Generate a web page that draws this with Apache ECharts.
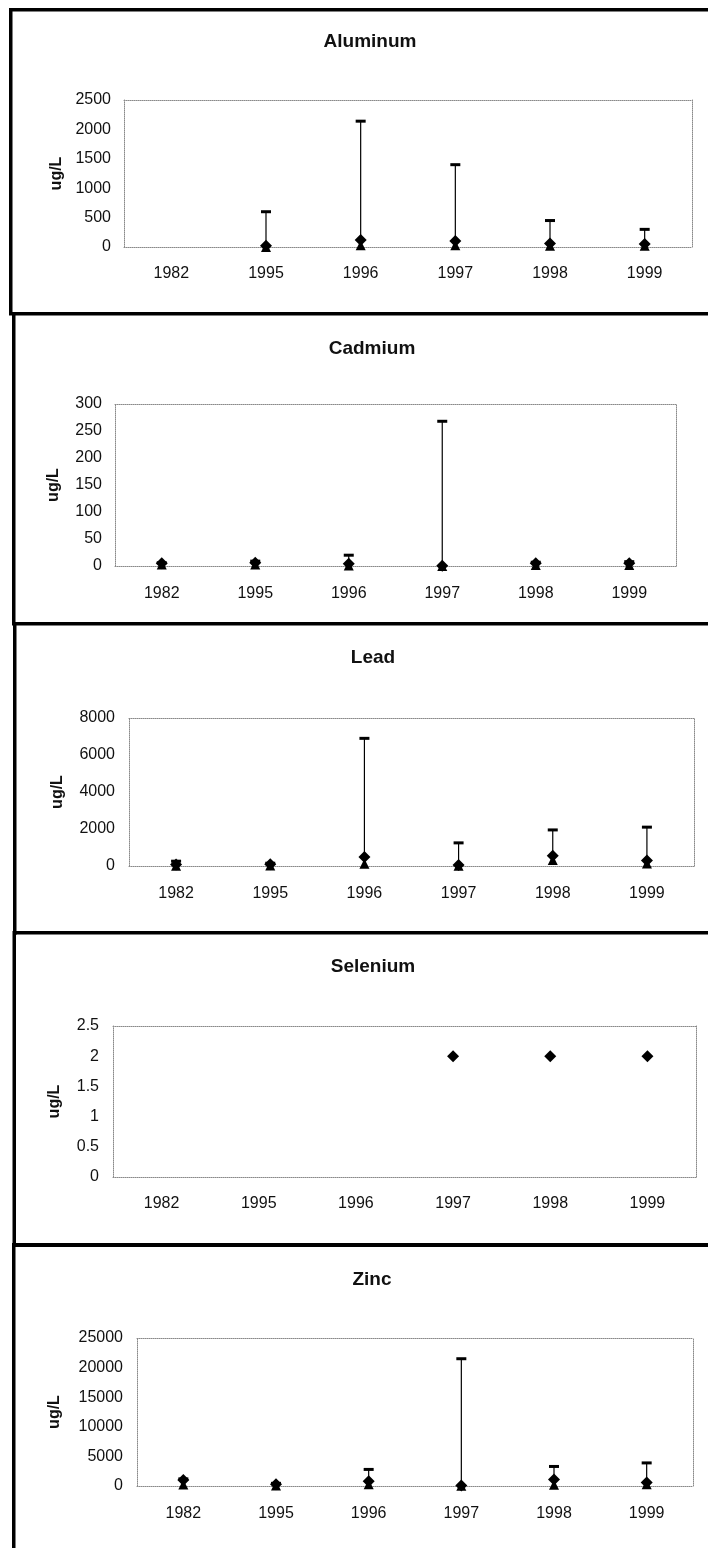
<!DOCTYPE html>
<html>
<head>
<meta charset="utf-8">
<script src="https://cdn.jsdelivr.net/npm/echarts@6/dist/echarts.min.js"></script>
<style>
html,body{margin:0;padding:0;background:#fff;}
#c{width:708px;height:1548px;}
</style>
</head>
<body>
<div id="c"></div>
<script>
// ---- data ----
const years = ['1982', '1995', '1996', '1997', '1998', '1999'];

const aluminumMean = [null, 20, 120, 100, 60, 50];
const aluminumMin  = [null, 0, 30, 30, 20, 20];
const aluminumMax  = [null, 600, 2140, 1400, 450, 300];

const cadmiumMean = [5, 6, 4, 0.5, 5, 5];
const cadmiumMin  = [3, 3, 1, 0, 2, 2];
const cadmiumMax  = [6, 9, 20, 268, 7, 8];

const leadMean = [80, 90, 490, 60, 560, 300];
const leadMin  = [20, 30, 120, 20, 330, 130];
const leadMax  = [260, 150, 6900, 1250, 1950, 2100];

const seleniumMean = [null, null, null, 2, 2, 2];
const seleniumMin  = [null, null, null, null, null, null];
const seleniumMax  = [null, null, null, null, null, null];

const zincMean = [1000, 300, 800, 100, 1100, 600];
const zincMin  = [250, 100, 300, 50, 200, 300];
const zincMax  = [1200, 450, 2800, 21500, 3300, 3900];

const titles = ['Aluminum', 'Cadmium', 'Lead', 'Selenium', 'Zinc'];
const yMaxes = [2500, 300, 8000, 2.5, 25000];
const yIntervals = [500, 50, 2000, 0.5, 5000];
const unitLabel = 'ug/L';

// ---- layout ----
const panels = [
  {mean: aluminumMean, min: aluminumMin, max: aluminumMax, grid: {left: 124, top: 100, width: 568, height: 147}, titleX: 365, titleY: 27, xm: 19, ym: 13, ng: 58},
  {mean: cadmiumMean, min: cadmiumMin, max: cadmiumMax, grid: {left: 115, top: 404, width: 561, height: 162}, titleX: 367, titleY: 334, xm: 20, ym: 13, ng: 53},
  {mean: leadMean, min: leadMin, max: leadMax, grid: {left: 129, top: 718, width: 565, height: 148}, titleX: 368, titleY: 643, xm: 20, ym: 14, ng: 63},
  {mean: seleniumMean, min: seleniumMin, max: seleniumMax, grid: {left: 113, top: 1026, width: 583, height: 151}, titleX: 368, titleY: 952, xm: 19, ym: 14, ng: 50},
  {mean: zincMean, min: zincMin, max: zincMax, grid: {left: 137, top: 1338, width: 556, height: 148}, titleX: 367, titleY: 1265, xm: 20, ym: 14, ng: 74}
];

const FONT = "'Liberation Sans', Arial, sans-serif";
const dotted = {show: true, onZero: false, lineStyle: {color: '#8a8a8a', width: 1, type: [1, 1]}};

const grid = [], xAxis = [], yAxis = [], series = [], title = [];

panels.forEach((p, k) => {
  grid.push(Object.assign({containLabel: false}, p.grid));
  title.push({
    text: titles[k], left: p.titleX, top: p.titleY, textAlign: 'center',
    textStyle: {fontFamily: FONT, fontWeight: 'bold', fontSize: 19, color: '#111'}
  });
  // bottom category axis
  xAxis.push({
    type: 'category', gridIndex: k, data: years, position: 'bottom',
    axisLine: dotted, axisTick: {show: false},
    axisLabel: {fontFamily: FONT, fontSize: 16, color: '#111', margin: p.xm}
  });
  // top frame axis
  xAxis.push({
    type: 'category', gridIndex: k, data: years, position: 'top',
    axisLine: dotted, axisTick: {show: false}, axisLabel: {show: false}
  });
  yAxis.push({
    type: 'value', gridIndex: k, min: 0, max: yMaxes[k], interval: yIntervals[k], position: 'left',
    axisLine: dotted, axisTick: {show: false}, splitLine: {show: false},
    axisLabel: {fontFamily: FONT, fontSize: 16, color: '#111', margin: p.ym, formatter: v => String(v)},
    name: unitLabel, nameLocation: 'middle', nameGap: p.ng,
    nameTextStyle: {fontFamily: FONT, fontSize: 16, fontWeight: 'bold', color: '#111'}
  });
  yAxis.push({
    type: 'value', gridIndex: k, min: 0, max: yMaxes[k], interval: yIntervals[k], position: 'right',
    axisLine: dotted, axisTick: {show: false}, splitLine: {show: false}, axisLabel: {show: false}
  });

  const rangeData = [];
  const meanData = [];
  const minData = [];
  years.forEach((y, i) => {
    if (p.max[i] != null && p.min[i] != null) rangeData.push([i, p.min[i], p.max[i]]);
    if (p.mean[i] != null) meanData.push([i, p.mean[i]]);
    if (p.min[i] != null) minData.push([i, p.min[i]]);
  });

  series.push({
    type: 'custom', xAxisIndex: 2 * k, yAxisIndex: 2 * k, clip: false, z: 2,
    encode: {x: 0, y: [1, 2]},
    data: rangeData,
    renderItem: function (params, api) {
      const idx = api.value(0);
      const lo = api.coord([idx, api.value(1)]);
      const hi = api.coord([idx, api.value(2)]);
      return {
        type: 'group',
        children: [
          {type: 'line', shape: {x1: lo[0], y1: lo[1], x2: hi[0], y2: hi[1]}, style: {stroke: '#000', lineWidth: 1.2}},
          {type: 'rect', shape: {x: hi[0] - 5, y: hi[1] - 1.5, width: 10, height: 3}, style: {fill: '#000'}}
        ]
      };
    }
  });
  series.push({
    type: 'scatter', xAxisIndex: 2 * k, yAxisIndex: 2 * k, clip: false, z: 3,
    symbol: 'triangle', symbolSize: 10, itemStyle: {color: '#000', opacity: 1},
    data: minData
  });
  series.push({
    type: 'scatter', xAxisIndex: 2 * k, yAxisIndex: 2 * k, clip: false, z: 4,
    symbol: 'diamond', symbolSize: [12, 12], itemStyle: {color: '#000', opacity: 1},
    data: meanData
  });
});

// panel frame lines
const B = 3.5;
const frame = [
  {type: 'rect', shape: {x: 9, y: 8, width: 699, height: B}},
  {type: 'rect', shape: {x: 9, y: 8, width: B, height: 307}},
  {type: 'rect', shape: {x: 9, y: 312, width: 699, height: B}},
  {type: 'rect', shape: {x: 12, y: 312, width: B, height: 313}},
  {type: 'rect', shape: {x: 12, y: 622, width: 696, height: B}},
  {type: 'rect', shape: {x: 13, y: 622, width: B, height: 313}},
  {type: 'rect', shape: {x: 13, y: 931, width: 695, height: B}},
  {type: 'rect', shape: {x: 12.5, y: 931, width: B, height: 316}},
  {type: 'rect', shape: {x: 12.5, y: 1243, width: 696, height: B + 0.5}},
  {type: 'rect', shape: {x: 12, y: 1243, width: B, height: 305}}
].map(r => Object.assign(r, {style: {fill: '#000'}, silent: true}));

const chart = echarts.init(document.getElementById('c'), null, {renderer: 'canvas'});
chart.setOption({
  backgroundColor: '#fff',
  animation: false,
  title: title,
  grid: grid,
  xAxis: xAxis,
  yAxis: yAxis,
  series: series,
  graphic: frame
});
</script>
</body>
</html>
